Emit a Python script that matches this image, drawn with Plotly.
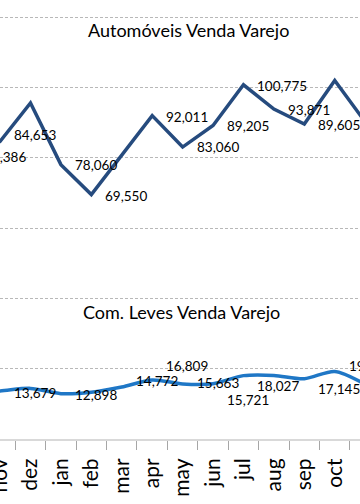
import plotly.graph_objects as go

# ---------------- data ----------------
months = ["oct", "nov", "dez", "jan", "feb", "mar", "apr", "may",
          "jun", "jul", "aug", "sep", "oct", "nov"]

auto_title = "Automóveis Venda Varejo"
auto_values = [80386, 84653, 95600, 78060, 69550, 80800, 92011, 83060,
               89205, 100775, 93871, 89605, 102000, 90200]
auto_labels = ["80,386", "84,653", "", "78,060", "69,550", "", "92,011", "83,060",
               "89,205", "100,775", "93,871", "89,605", "", ""]

com_title = "Com. Leves Venda Varejo"
com_values = [13300, 13679, 14400, 12898, 13300, 14772, 16809, 15663,
              15721, 18027, 18100, 17145, 19230, 15600]
com_labels = ["", "13,679", "", "12,898", "", "14,772", "16,809", "15,663",
              "15,721", "18,027", "", "17,145", "19,230", ""]

# ---------------- style ----------------
W, H = 360, 504
M_B = 65
X_RANGE = [0.998, 12.83]
Y_RANGE = [0, 124900]
FONT = "Lato, 'Open Sans', sans-serif"
AUTO_COLOR = "#264b7e"
COM_COLOR = "#1f77c6"
LABEL_DX = 12
# vertical nudges of individual data labels (px, + = up)
auto_label_dy = [-1, 6, 0, 0, -1.5, 0, -1, 0, -1, -1, -1, -1, 0, 0]
com_label_dy = [0, -2, 0, -1, 0, 6, 14, 1, -16, -10, 0, -10, 5, 0]

x_idx = list(range(len(months)))
px_per_cat = W / (X_RANGE[1] - X_RANGE[0])

fig = go.Figure()
fig.add_trace(go.Scatter(x=x_idx, y=auto_values, mode="lines",
                         line=dict(color=AUTO_COLOR, width=3.5),
                         hoverinfo="skip", showlegend=False))
fig.add_trace(go.Scatter(x=x_idx, y=com_values, mode="lines",
                         line=dict(color=COM_COLOR, width=3.5, shape="spline", smoothing=0.8),
                         hoverinfo="skip", showlegend=False))

annotations = []
for vals, labs, dys in ((auto_values, auto_labels, auto_label_dy),
                        (com_values, com_labels, com_label_dy)):
    for i, (v, t, dy) in enumerate(zip(vals, labs, dys)):
        if not t:
            continue
        xi, xs = i, LABEL_DX
        if i < X_RANGE[0]:
            xi, xs = i + 1, LABEL_DX - px_per_cat
        annotations.append(dict(x=xi, y=v, xref="x", yref="y", text=t,
                                showarrow=False, xanchor="left", yanchor="middle",
                                xshift=xs, yshift=dy,
                                font=dict(family=FONT, size=13.5, color="#000000")))

plot_h = H - M_B
annotations.append(dict(x=188 / W, y=(plot_h - 30) / plot_h, xref="paper", yref="paper",
                        text=auto_title, showarrow=False, xanchor="center", yanchor="middle",
                        font=dict(family=FONT, size=18, color="#000000")))
annotations.append(dict(x=181 / W, y=(plot_h - 312) / plot_h, xref="paper", yref="paper",
                        text=com_title, showarrow=False, xanchor="center", yanchor="middle",
                        font=dict(family=FONT, size=18, color="#000000")))

fig.update_layout(
    width=W, height=H,
    margin=dict(l=0, r=0, t=0, b=M_B, pad=0, autoexpand=False),
    paper_bgcolor="white", plot_bgcolor="white",
    annotations=annotations,
    xaxis=dict(range=X_RANGE, tickmode="array", tickvals=x_idx, ticktext=months,
               tickangle=-90, ticks="outside", ticklen=9, tickcolor="rgba(0,0,0,0)",
               tickfont=dict(family=FONT, size=21, color="#000000"),
               ticklabeloverflow="allow", automargin=False,
               showline=True, linecolor="#d9d9d9", linewidth=2,
               showgrid=False, zeroline=False,
               minor=dict(tickmode="linear", tick0=0.5, dtick=1, ticks="outside",
                          ticklen=9, tickwidth=1, tickcolor="#a6a6a6", showgrid=False)),
    yaxis=dict(range=Y_RANGE, dtick=20000, tick0=0, showticklabels=False, ticks="",
               automargin=False,
               showgrid=True, gridcolor="#b8b8b8", gridwidth=1, griddash="3px,2px",
               zeroline=False, showline=False),
)

fig.write_html("out.html",
               config={"displayModeBar": False, "staticPlot": True},
               post_script="document.body.style.margin='0px';document.body.style.overflow='hidden';")
